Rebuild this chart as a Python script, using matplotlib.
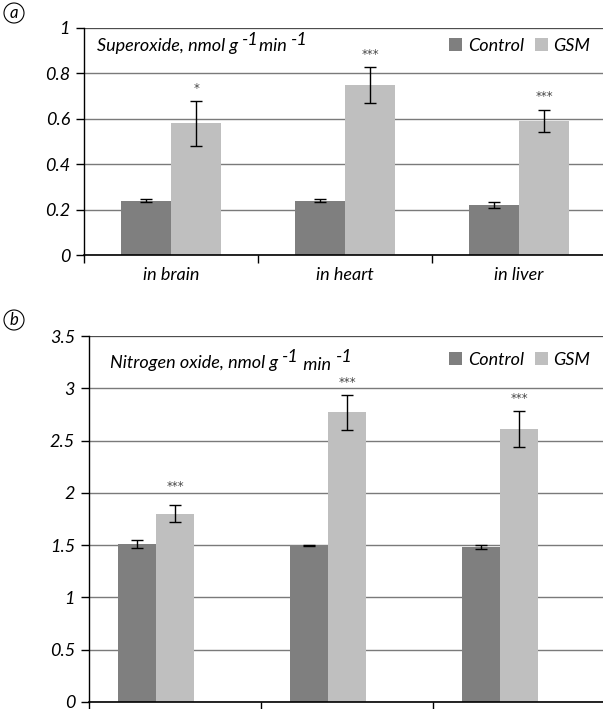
import matplotlib
matplotlib.use('Agg')
import matplotlib.pyplot as plt
import numpy as np

plt.rcParams['font.family'] = ['Lato', 'DejaVu Sans']
plt.rcParams['font.style'] = 'italic'

# data
organs = ['in brain', 'in heart', 'in liver']
series = ['Control', 'GSM']

sup_control = [0.24, 0.24, 0.22]
sup_control_err = [0.008, 0.008, 0.015]
sup_gsm = [0.58, 0.75, 0.59]
sup_gsm_err = [0.10, 0.08, 0.05]
sup_stars = ['*', '***', '***']
sup_star_y = [0.735, 0.885, 0.70]

no_control = [1.51, 1.50, 1.48]
no_control_err = [0.035, 0.005, 0.02]
no_gsm = [1.80, 2.77, 2.61]
no_gsm_err = [0.08, 0.17, 0.17]
no_stars = ['***', '***', '***']
no_star_y = [2.06, 3.06, 2.90]

c_ctrl = '#7f7f7f'
c_gsm = '#bfbfbf'
grid_c = '#7a7a7a'

fig = plt.figure(figsize=(6.03, 7.09), dpi=100)
W, H = 603, 709
renderer = fig.canvas.get_renderer()


def pieces_text(x_px, y_px, parts, size=13):
    # draw text made of (string, raise_px) parts, one after another
    x = x_px
    for s, r in parts:
        t = fig.text(x / W, 1 - (y_px - r) / H, s, fontsize=size, ha='left', va='center')
        bb = t.get_window_extent(renderer)
        x += bb.width


def panel(rect_px, ymax, ystep, ctrl, ctrl_err, gsm, gsm_err, stars, star_y,
          title_parts, title_xy, leg_y, bw, shift, xmax, show_labels, yfmt):
    x0, y0, x1, y1 = rect_px
    ax = fig.add_axes([x0 / W, 1 - y1 / H, (x1 - x0) / W, (y1 - y0) / H])
    x = np.arange(len(organs)) + shift
    ax.bar(x - bw / 2, ctrl, bw, color=c_ctrl, zorder=2, label=series[0])
    ax.bar(x + bw / 2, gsm, bw, color=c_gsm, zorder=2, label=series[1])
    ax.errorbar(x - bw / 2, ctrl, yerr=ctrl_err, fmt='none', ecolor='black',
                elinewidth=1, capsize=4, capthick=1, zorder=3)
    ax.errorbar(x + bw / 2, gsm, yerr=gsm_err, fmt='none', ecolor='black',
                elinewidth=1, capsize=4, capthick=1, zorder=3)
    for xi, s, sy in zip(x, stars, star_y):
        ax.text(xi + bw / 2, sy, s, ha='center', va='center', fontsize=8.5,
                color='#444444', style='normal', family='DejaVu Sans')

    ax.set_ylim(0, ymax)
    ax.set_xlim(-0.5, xmax)
    ticks = np.arange(0, ymax + ystep / 2, ystep)
    ax.set_yticks(ticks)
    ax.set_yticklabels([yfmt(t) for t in ticks], fontsize=13)
    ax.yaxis.grid(True, color=grid_c, lw=1)
    ax.set_axisbelow(True)
    ax.axhline(ymax, color='#444444', lw=1.2, zorder=1)
    ax.set_xticks([-0.5, 0.5, 1.5])
    ax.set_xticklabels([])
    ax.set_xticks(range(len(organs)), minor=True)
    ax.set_xticklabels(organs if show_labels else ['', '', ''], minor=True, fontsize=13)
    ax.tick_params(axis='x', which='minor', length=0, pad=9)
    ax.tick_params(axis='x', which='major', length=6, width=1)
    ax.tick_params(axis='y', length=6, width=1, pad=4)
    for s in ['top', 'right']:
        ax.spines[s].set_visible(False)
    ax.spines['left'].set_linewidth(1)
    ax.spines['bottom'].set_linewidth(1.2)

    pieces_text(title_xy[0], title_xy[1], title_parts)
    ax.legend(loc='center right', bbox_to_anchor=(1.0, (leg_y - y1) / (y0 - y1)),
              ncol=2, frameon=False, fontsize=13, handlelength=0.75,
              handleheight=0.75, handletextpad=0.3, columnspacing=0.6,
              borderaxespad=0.3)
    return ax


panel((84, 28, 603, 255), 1.0, 0.2, sup_control, sup_control_err, sup_gsm,
      sup_gsm_err, sup_stars, sup_star_y,
      [('Superoxide, nmol g ', 0), ('-1', 6), ('min ', 0), ('-1', 6)], (97, 46), 46,
      0.29, 0.0, 2.483, True, lambda t: '0' if t == 0 else ('1' if t == 1 else f'{t:.1f}'))

panel((89, 336, 603, 702), 3.5, 0.5, no_control, no_control_err, no_gsm,
      no_gsm_err, no_stars, no_star_y,
      [('Nitrogen oxide, nmol g ', 0), ('-1', 6), (' min ', -2), ('-1', 6)], (110, 363), 360,
      0.22, -0.11, 2.488, False, lambda t: f'{t:g}')

for lab, (px, py) in [('a', (14, 13)), ('b', (14, 320))]:
    fig.text(px / W, 1 - py / H, lab, fontsize=12, ha='center', va='center',
             bbox=dict(boxstyle='circle,pad=0.12', fc='white', ec='black', lw=0.8))

fig.savefig('out.png', dpi=100)
